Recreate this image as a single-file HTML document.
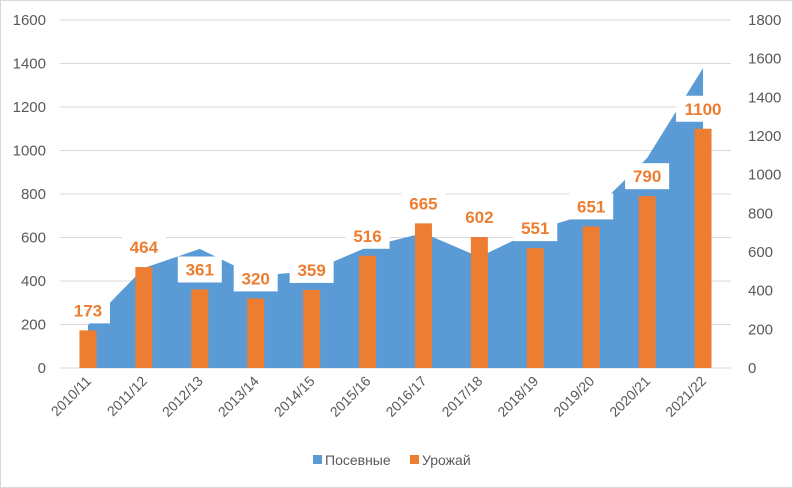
<!DOCTYPE html>
<html><head><meta charset="utf-8"><style>
html,body{margin:0;padding:0;background:#fff;}
svg{display:block;font-family:"Liberation Sans","DejaVu Sans",sans-serif;}
</style></head><body>
<svg id="chart" width="793" height="488">
<rect x="0.5" y="0.5" width="792" height="487" fill="#fff" stroke="#d9d9d9"/>
<g id="grid"></g><g id="area"></g><g id="bars"></g><g id="labels"></g><g id="axes"></g>
<g>
<rect x="313" y="455" width="9" height="9" fill="#5b9bd5"/>
<text x="325" y="465" font-size="14" fill="#595959">Посевные</text>
<rect x="410" y="455" width="9" height="9" fill="#ed7d31"/>
<text x="422" y="465" font-size="14" fill="#595959">Урожай</text>
</g>
</svg>
<script>
const categories=["2010/11","2011/12","2012/13","2013/14","2014/15","2015/16","2016/17","2017/18","2018/19","2019/20","2020/21","2021/22"];
const sownValues=[222,517,616,476,502,626,698,574,714,802,1086,1552];
const harvestValues=[173,464,361,320,359,516,665,602,551,651,790,1100];
const leftTicks=[0,200,400,600,800,1000,1200,1400,1600];
const rightTicks=[0,200,400,600,800,1000,1200,1400,1600,1800];

const NS="http://www.w3.org/2000/svg";
const X0=60,X1=731,Y0=368,Y1=20;
const step=(X1-X0)/categories.length;
const xC=i=>X0+step*(i+0.5);
const yL=v=>Y0-(v/1600)*(Y0-Y1);
const yR=v=>Y0-(v/1800)*(Y0-Y1);
function mk(tag,attrs,parent){const e=document.createElementNS(NS,tag);for(const k in attrs)e.setAttribute(k,attrs[k]);parent.appendChild(e);return e;}
const grid=document.getElementById('grid'),axes=document.getElementById('axes');
leftTicks.forEach(t=>{
  const l=mk('line',{x1:X0,x2:X1,y1:yL(t),y2:yL(t),stroke:'#d9d9d9','stroke-width':1},grid);
  
  
  const tx=mk('text',{x:46,y:yL(t)+5,'text-anchor':'end','font-size':15,fill:'#595959'},axes);
  tx.textContent=t;
  
  
});
rightTicks.forEach(t=>{
  const tx=mk('text',{x:748,y:yR(t)+5,'font-size':15,fill:'#595959'},axes);
  tx.textContent=t;
  
  
});
categories.forEach((c,i)=>{
  const x=xC(i)+4,y=382;
  const tx=mk('text',{x:x,y:y,'text-anchor':'end','font-size':14,fill:'#595959',transform:`rotate(-45 ${x} ${y})`},axes);
  tx.textContent=c;
  
  
});
let pts=`${xC(0)},${Y0} `+sownValues.map((v,i)=>`${xC(i)},${yR(v)}`).join(' ')+` ${xC(sownValues.length-1)},${Y0}`;
const area=mk('polygon',{points:pts,fill:'#5b9bd5'},document.getElementById('area'));


const bars=document.getElementById('bars'),labels=document.getElementById('labels');
harvestValues.forEach((v,i)=>{
  const b=mk('rect',{x:xC(i)-8.5,y:yL(v),width:17,height:Y0-yL(v),fill:'#ed7d31'},bars);
  
  
  const cy=yL(v)-20,w=String(v).length*10+14;
  const r=mk('rect',{x:xC(i)-w/2,y:cy-13,width:w,height:26,fill:'#fff'},labels);
  
  
  const t=mk('text',{x:xC(i),y:cy+6,'text-anchor':'middle','font-size':17,'font-weight':'bold',fill:'#ed7d31'},labels);
  t.textContent=v;
  
  
});
</script>
</body></html>
